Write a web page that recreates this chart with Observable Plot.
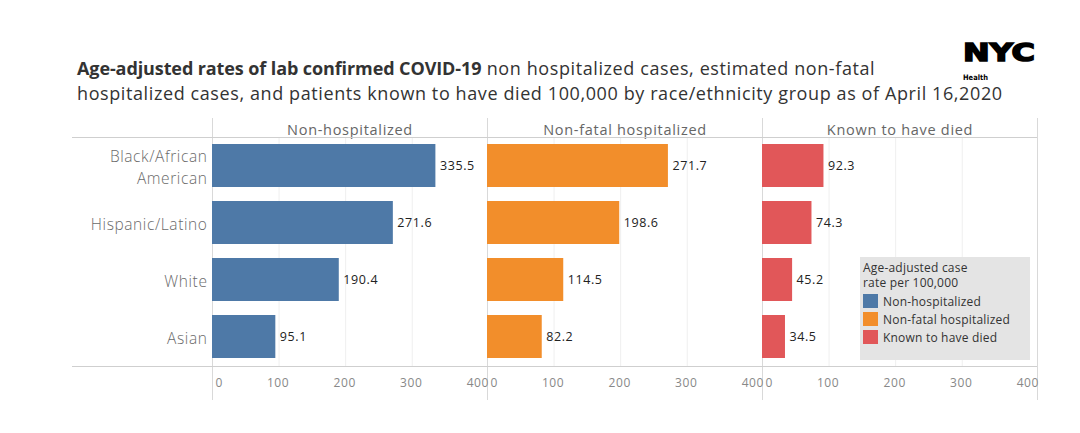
<!DOCTYPE html>
<html>
<head>
<meta charset="utf-8">
<script src="https://cdn.jsdelivr.net/npm/d3@7"></script>
<script src="https://cdn.jsdelivr.net/npm/@observablehq/plot@0.6"></script>
<style>
  html, body { margin: 0; padding: 0; background: #fff; width: 1080px; height: 433px; overflow: hidden; position: relative; font-family: "Open Sans", sans-serif; }
  #title { position: absolute; left: 77px; top: 56px; font-size: 18px; line-height: 25px; color: #333; white-space: nowrap; letter-spacing: 0.6px; }
  #title b { font-weight: 700; letter-spacing: -0.1px; }
  #logo { position: absolute; left: 0; top: 0; }
  #chart { position: absolute; left: 0; top: 112px; }
  #legend { position: absolute; left: 860px; top: 257px; width: 170px; height: 103px; background: #e4e4e4; font-size: 12px; color: #333; box-sizing: border-box; padding: 3px 0 0 3px; letter-spacing: 0.2px; }
  #legend .lt { line-height: 15px; margin-bottom: 2px; }
  #legend .item { display: flex; align-items: center; height: 18px; }
  #legend .sw { width: 15px; height: 14px; margin-right: 5px; }
</style>
</head>
<body>
<div id="title"><b>Age-adjusted rates of lab confirmed COVID-19</b> non hospitalized cases, estimated non-fatal<br>hospitalized cases, and patients known to have died 100,000 by race/ethnicity group as of April 16,2020</div>
<svg id="logo" width="1080" height="90">
  <text x="963" y="61" font-family="DejaVu Sans" font-weight="bold" font-size="25" textLength="72" lengthAdjust="spacingAndGlyphs" fill="#000" stroke="#000" stroke-width="1.6">NYC</text>
  <text x="963" y="80" font-family="DejaVu Sans" font-weight="bold" font-size="7.5" textLength="25" lengthAdjust="spacingAndGlyphs" fill="#000">Health</text>
</svg>
<div id="chart"></div>
<div id="legend"></div>
<script>
const races = ["Black/African American", "Hispanic/Latino", "White", "Asian"];
const measures = ["Non-hospitalized", "Non-fatal hospitalized", "Known to have died"];
const nonHospitalized = [335.5, 271.6, 190.4, 95.1];
const nonFatalHospitalized = [271.7, 198.6, 114.5, 82.2];
const knownDied = [92.3, 74.3, 45.2, 34.5];
const colors = ["#4e79a7", "#f28e2b", "#e15759"];
const xTicks = [0, 100, 200, 300, 400];
const legendTitle = "Age-adjusted case rate per 100,000";

const series = [nonHospitalized, nonFatalHospitalized, knownDied];
const data = [];
measures.forEach((m, i) => races.forEach((r, j) => data.push({measure: m, race: r, value: series[i][j]})));

const W = 1080, H = 293, mL = 212, mR = 43, mT = 25, mB = 39;
const xMax = 413;

const chart = Plot.plot({
  width: W,
  height: H,
  marginLeft: mL,
  marginRight: mR,
  marginTop: mT,
  marginBottom: mB,
  style: {fontFamily: "Open Sans, sans-serif", background: "transparent", overflow: "visible"},
  fx: {domain: measures, padding: 0, label: null},
  x: {domain: [0, xMax], label: null},
  y: {domain: races, paddingInner: 0.24, paddingOuter: 0.12, label: null},
  color: {domain: measures, range: colors},
  marks: [
    Plot.gridX({ticks: [100, 200, 300], stroke: "#efefef", strokeOpacity: 1}),
    Plot.ruleX([0], {stroke: "#d9d9d9", insetTop: -19, insetBottom: -34}),
    Plot.ruleX([{measure: measures[2], x: xMax}], {x: "x", fx: "measure", stroke: "#d9d9d9", insetTop: -19, insetBottom: -34}),
    Plot.barX(data, {x: "value", y: "race", fx: "measure", fill: "measure"}),
    Plot.text(data, {x: "value", y: "race", fx: "measure", text: d => d.value.toFixed(1), textAnchor: "start", dx: 4, fontSize: 12.5, fill: "#222", className: "vlabel"}),
    Plot.axisFx({anchor: "top", tickSize: 0, tickPadding: 3, fontSize: 14.5, fill: "#666", label: null}),
    Plot.axisX({anchor: "bottom", ticks: [xTicks[0]], tickSize: 0, tickPadding: 12, fontSize: 12, fill: "#888", label: null, textAnchor: "start", dx: 3}),
    Plot.axisX({anchor: "bottom", ticks: xTicks.slice(1), tickSize: 0, tickPadding: 12, fontSize: 12, fill: "#888", label: null, dx: -1}),
    Plot.axisY({anchor: "left", tickSize: 0, tickPadding: 5, fontSize: 15.5, fontWeight: 300, fill: "#6a6a6a", lineHeight: 1.42, label: null,
      tickFormat: d => d.replace("/African ", "/African\n")})
  ]
});

const svg = d3.select(chart);
svg.selectAll('[aria-label="y-axis tick label"] text').style("letter-spacing", "0.6px");
svg.selectAll('[aria-label="fx-axis tick label"] text').style("letter-spacing", "0.7px");
svg.selectAll('[aria-label="x-axis tick label"] text').style("letter-spacing", "0.6px");
svg.selectAll('.vlabel text').style("letter-spacing", "0.6px");
[mT, H - mB].forEach(y => {
  svg.append("line").attr("x1", 72).attr("x2", W - mR).attr("y1", y + 0.5).attr("y2", y + 0.5)
    .attr("stroke", "#cfcfcf").attr("stroke-width", 1);
});
document.getElementById("chart").appendChild(chart);

const legend = d3.select("#legend");
legend.append("div").attr("class", "lt").html(legendTitle.replace("case ", "case<br>"));
measures.forEach((m, i) => {
  const it = legend.append("div").attr("class", "item");
  it.append("div").attr("class", "sw").style("background", colors[i]);
  it.append("span").text(m);
});
</script>
</body>
</html>
